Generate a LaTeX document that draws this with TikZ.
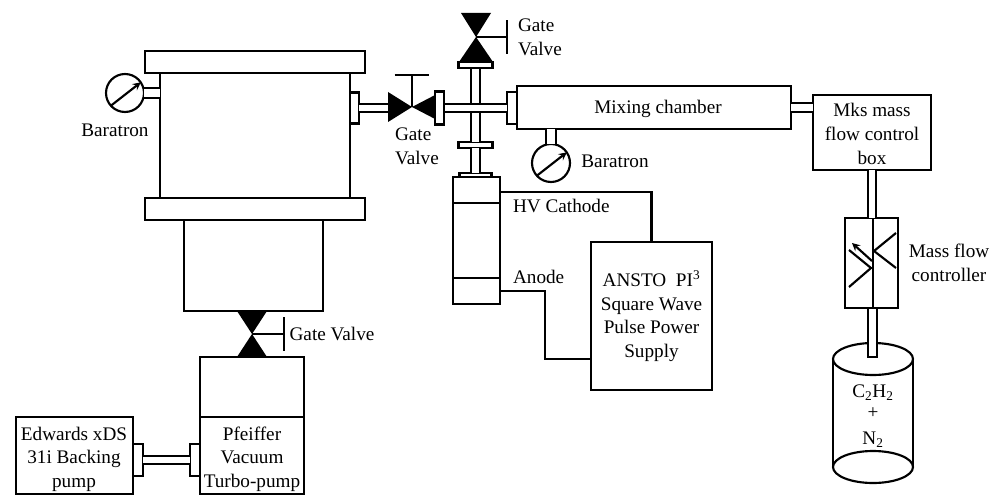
\documentclass[tikz,border=0pt]{standalone}
\usepackage{fontspec}
\setmainfont{Liberation Serif}
\usepackage{tikz}
\usetikzlibrary{arrows, shapes.geometric}
\def\px{0.75pt}
\tikzset{
  part/.style n args={2}{draw, fill=white, rectangle, inner sep=0pt, outer sep=0pt, align=center, minimum width=#1*\px, minimum height=#2*\px},
  gauge/.style={draw, fill=white, circle, inner sep=0pt, outer sep=0pt, minimum size=38*\px},
  tube/.style={double, double distance=4.7pt},
  lab/.style={inner sep=0pt, align=center},
  tank/.style={draw, fill=white, ellipse, inner sep=0pt, outer sep=0pt, minimum width=80*\px, minimum height=32*\px}
}
\begin{document}
\begin{tikzpicture}[x=0.75pt, y=-0.75pt, line width=1.6pt, font=\fontsize{14.4}{17.7}\selectfont, >=stealth]
\useasboundingbox (0,0) rectangle (998,495);
\coordinate (vl) at (412,107);
\coordinate (vt) at (476,37);
\coordinate (vb) at (252,334);
\coordinate (vlin) at (390,108);
\coordinate (anin) at (591,359);
\node[part={220}{22}] (topfl) at (255,62) {};
\node[part={190}{125}] (chamber) at (255,135.5) {};
\node[part={220}{22}] (lowfl) at (255,209) {};
\node[part={139}{91}] (lowbox) at (253.5,265.5) {};
\node[part={104}{60}] (pumpcase) at (252,387) {};
\node[part={104}{77}] (turbo) at (252,455.5) {};
\node[part={117}{77}] (edwards) at (74.5,455.5) {};
\node[part={10}{32}] (fled) at (138,460) {};
\node[part={10}{32}] (fltu) at (195,460) {};
\draw[tube] (fled) -- (fltu);
\node[gauge] (gaugel) at (125,93) {};
\draw[tube, double distance=6pt] (gaugel.east) -- (gaugel.east -| chamber.west);
\draw[->] (gaugel.222) -- (gaugel.34);
\node[part={9}{31}] (flch) at (354.5,108) {};
\draw[tube] (flch.east) -- (vlin);
\node[part={34}{6}] (fltop) at (475.5,65) {};
\node[part={34}{6}] (flmid) at (475.5,145) {};
\node[part={32}{5}] (flbot) at (475.5,175.5) {};
\draw[tube] (fltop) -- (flmid);
\draw[tube] (flmid) -- (flbot);
\node[part={9}{33}] (flva) at (439.5,108) {};
\node[part={10}{32}] (flmi) at (512,108) {};
\draw[tube] (flva) -- (flmi);
\node[part={274}{43}] (mix) at (654,107.5) {};
\node[part={118}{75}] (mks) at (872,132.5) {};
\draw[tube] (mix.east) -- (mix.east -| mks.west);
\node[gauge] (gauger) at (551,163) {};
\draw[tube, double distance=6pt] (gauger.north) -- (gauger.north |- mix.south);
\draw[->] (gauger.222) -- (gauger.34);
\fill (vl) -- ++(-24,-15) -- ++(0,30) -- cycle;
\fill (vl) -- ++(25,-13) -- ++(0,26) -- cycle;
\fill (vt) -- ++(-15,-24) -- ++(30,0) -- cycle;
\fill (vt) -- ++(-17,25) -- ++(34,0) -- cycle;
\fill (vb) -- ++(-15,-23) -- ++(30,0) -- cycle;
\fill (vb) -- ++(-15,23) -- ++(30,0) -- cycle;
\node[part={9}{33}] at (flva) {};
\node[part={34}{6}] at (fltop) {};
\draw (vl) -- ++(0,-32) coordinate (vlstem);
\draw ([xshift=-13pt]vlstem) -- ([xshift=13pt]vlstem);
\draw (vt) -- ++(31,0) coordinate (vtstem);
\draw ([yshift=12.5pt]vtstem) -- ([yshift=-12.5pt]vtstem);
\draw (vb) -- ++(32,0) coordinate (vbstem);
\draw ([yshift=12.5pt]vbstem) -- ([yshift=-12.5pt]vbstem);
\node[part={47}{26}] (catop) at (476.5,190) {};
\node[part={47}{75}] (camid) at (476.5,240.5) {};
\node[part={47}{26}] (cabot) at (476.5,291) {};
\node[part={121}{148}] (psu) at (651.5,316) {ANSTO\ \ PI\textsuperscript{3}\\Square Wave\\Pulse Power\\Supply};
\draw ([yshift=-1.5pt]catop.east) -| (psu.north);
\draw (cabot.east) -- ++(45,0) |- (anin);
\node[part={28}{90}] (mfcl) at (859,263) {};
\node[part={25}{90}] (mfcr) at (885.5,263) {};
\draw[tube] (mks.south) -- (mks.south |- mfcl.north);
\node[tank] (tanktop) at (873,359) {};
\node[tank] (tankbot) at (873,467) {};
\draw (tanktop.west) -- (tankbot.west);
\draw (tanktop.east) -- (tankbot.east);
\node[part={9}{49}] (mfcout) at (872.5,332.5) {};
\draw (849,250) -- (871,268) -- (849,287);
\draw (896,233) -- (874,251) -- (896,268);
\draw[->] (872,261) -- (852,243);
\node[lab] (ltur) at (252,459) {Pfeiffer\\Vacuum\\Turbo-pump};
\node[lab] (ledw) at (74,459) {Edwards xDS\\31i Backing\\pump};
\node[lab] (lmix) at (658,109) {Mixing chamber};
\node[lab] (lmks) at (872,134) {Mks mass\\flow control\\box};
\node[lab] (tgas) at (873,416) {C\textsubscript{2}H\textsubscript{2}\\[-1.75pt]+\\[2pt]N\textsubscript{2}};
\node[lab] (lbl1) at (115,130) {Baratron};
\node[lab] (lbl2) at (615,161) {Baratron};
\node[lab, align=left, anchor=west] (lgv1) at (394,146) {Gate\\Valve};
\node[lab, align=left, anchor=west] (lgv2) at (517,37) {Gate\\Valve};
\node[lab] (lgv3) at (332,334) {Gate Valve};
\node[lab, anchor=west] (lhv) at (512,206) {HV Cathode};
\node[lab, anchor=west] (lan) at (512,277) {Anode};
\node[lab] (lmf) at (949,263) {Mass flow\\controller};
\end{tikzpicture}
\end{document}
